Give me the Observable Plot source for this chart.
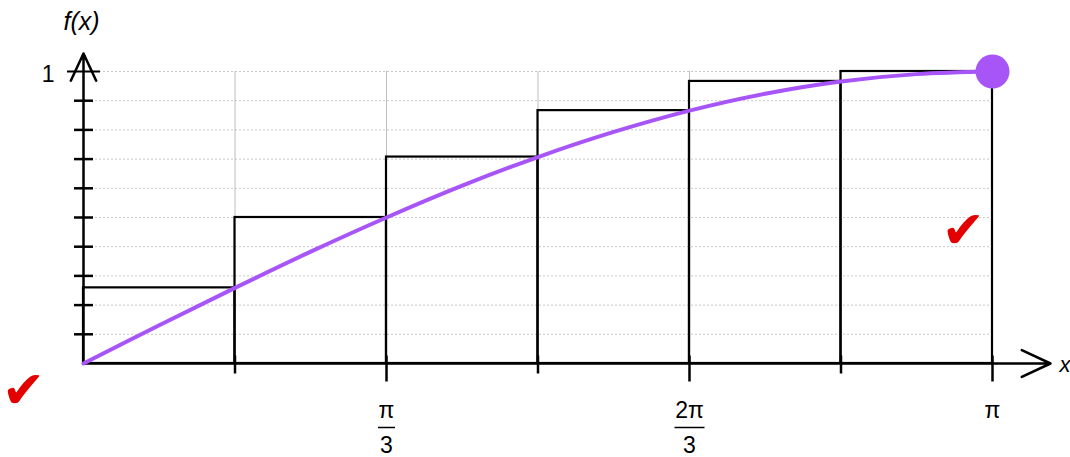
<!DOCTYPE html>
<html>
<head>
<meta charset="utf-8">
<script src="https://cdn.jsdelivr.net/npm/d3@7"></script>
<script src="https://cdn.jsdelivr.net/npm/@observablehq/plot@0.6"></script>
<style>
  body { margin: 0; background: #fff; }
  svg { display: block; }
</style>
</head>
<body>
<div id="chart"></div>
<script>
// ---- data ----
const PI = Math.PI;
const stepEdges = [0, PI/6, PI/3, PI/2, 2*PI/3, 5*PI/6, PI];       // partition points
const stepHeights = [0.259, 0.5, 0.707, 0.866, 0.966, 1.0];          // right-endpoint heights
const curveX = [0, PI/12, PI/6, PI/4, PI/3, 5*PI/12, PI/2, 7*PI/12, 2*PI/3, 3*PI/4, 5*PI/6, 11*PI/12, PI];
const curveY = [0, 0.131, 0.259, 0.383, 0.5, 0.609, 0.707, 0.793, 0.866, 0.924, 0.966, 0.991, 1.0];
const yTickValues = [0.1, 0.2, 0.3, 0.4, 0.5, 0.6, 0.7, 0.8, 0.9, 1.0];
const xMinorTicks = [PI/6, PI/2, 5*PI/6];
const xMajorTicks = [PI/3, 2*PI/3, PI];
const xTickNum = ["π", "2π", "π"];
const xTickDen = ["3", "3", ""];
const endPoint = [{x: PI, y: 1}];
const checkX = [-0.207, 3.041];
const checkY = [-0.11, 0.438];

// ---- layout ----
const W = 1070, H = 457;
const mL = 83, mR = 78, mT = 71, mB = 94;
const pxX = PI / (W - mL - mR);       // data units per pixel (x)
const pxY = 1 / (H - mT - mB);        // data units per pixel (y)
const purple = "#a855f7";

const hLine = {draw(ctx, size) { const r = Math.sqrt(size / Math.PI); ctx.moveTo(-r, 0); ctx.lineTo(r, 0); }};
const vLine = {draw(ctx, size) { const r = Math.sqrt(size / Math.PI); ctx.moveTo(0, -r); ctx.lineTo(0, r); }};

const rects = stepHeights.map((h, i) => ({x1: stepEdges[i], x2: stepEdges[i + 1], h}));
const curve = curveX.map((x, i) => ({x, y: curveY[i]}));
const majors = xMajorTicks.map((x, i) => ({x, num: xTickNum[i], den: xTickDen[i]}));
const checks = checkX.map((x, i) => ({x, y: checkY[i]}));

const font = "'Liberation Sans', Arial, sans-serif";

const chart = Plot.plot({
  width: W, height: H,
  marginLeft: mL, marginRight: mR, marginTop: mT, marginBottom: mB,
  x: {domain: [0, PI], axis: null},
  y: {domain: [0, 1], axis: null},
  style: {fontFamily: font, background: "#fff", overflow: "visible"},
  marks: [
    // grid
    Plot.ruleY(yTickValues, {stroke: "#c8c8c8", strokeWidth: 1, strokeDasharray: "2,2"}),
    Plot.ruleX(stepEdges.slice(1, -1), {stroke: "#bdbdbd", strokeWidth: 1}),
    // step rectangles
    Plot.rect(rects, {x1: "x1", x2: "x2", y1: 0, y2: "h", fill: "none", stroke: "#000", strokeWidth: 2.2}),
    // axes with arrows
    Plot.arrow([0], {x1: 0, y1: 0, x2: PI + 58 * pxX, y2: 0, stroke: "#000", strokeWidth: 2.5, headLength: 19, headAngle: 50}),
    Plot.arrow([0], {x1: 0, y1: 0, x2: 0, y2: 1 + 18 * pxY, stroke: "#000", strokeWidth: 2.5, headLength: 18, headAngle: 50}),
    // y ticks
    Plot.dot(yTickValues.filter(v => v < 1), {x: 0, y: d => d, symbol: hLine, r: 9.5, stroke: "#000", strokeWidth: 2.5}),
    Plot.dot([1], {x: 0, y: d => d, symbol: hLine, r: 16.5, stroke: "#000", strokeWidth: 2}),
    // x ticks
    Plot.dot(xMinorTicks, {x: d => d, y: 0, symbol: vLine, r: 9, dy: 1, stroke: "#000", strokeWidth: 2.5}),
    Plot.dot(xMajorTicks, {x: d => d, y: 0, symbol: vLine, r: 13, dy: 5, stroke: "#000", strokeWidth: 2.5}),
    // curve
    Plot.line(curve, {x: "x", y: "y", curve: "catmull-rom", stroke: purple, strokeWidth: 4}),
    Plot.dot(endPoint, {x: "x", y: "y", r: 17, fill: purple, stroke: "none"}),
    // x tick labels (fractions)
    Plot.text(majors, {x: "x", y: 0, text: "num", dy: 47, fontSize: 23, fill: "#000"}),
    Plot.dot(majors.filter(d => d.num.length === 1 && d.den), {x: "x", y: 0, symbol: hLine, r: 8.5, dy: 64, stroke: "#000", strokeWidth: 1.5}),
    Plot.dot(majors.filter(d => d.num.length > 1 && d.den), {x: "x", y: 0, symbol: hLine, r: 15, dy: 64, stroke: "#000", strokeWidth: 1.5}),
    Plot.text(majors, {x: "x", y: 0, text: "den", dy: 82, fontSize: 23, fill: "#000"}),
    // y label "1"
    Plot.text([1], {x: 0, y: d => d, text: d => String(d), dx: -29, dy: 3, textAnchor: "end", fontSize: 23, fill: "#000"}),
    // axis titles
    Plot.text(["f(x)"], {x: 0, y: 1, text: d => d, dx: -2, dy: -50, fontSize: 25, fontStyle: "italic", fill: "#000"}),
    Plot.text(["x"], {x: PI, y: 0, text: d => d, dx: 67, dy: 1, textAnchor: "start", fontSize: 22, fontStyle: "italic", fill: "#000"}),
    // check marks
    Plot.text(checks, {x: "x", y: "y", text: () => "✔", dy: -4, fontSize: 52, fill: "#e30000", fontFamily: "'DejaVu Sans', sans-serif"})
  ]
});
document.getElementById("chart").appendChild(chart);
</script>
</body>
</html>
